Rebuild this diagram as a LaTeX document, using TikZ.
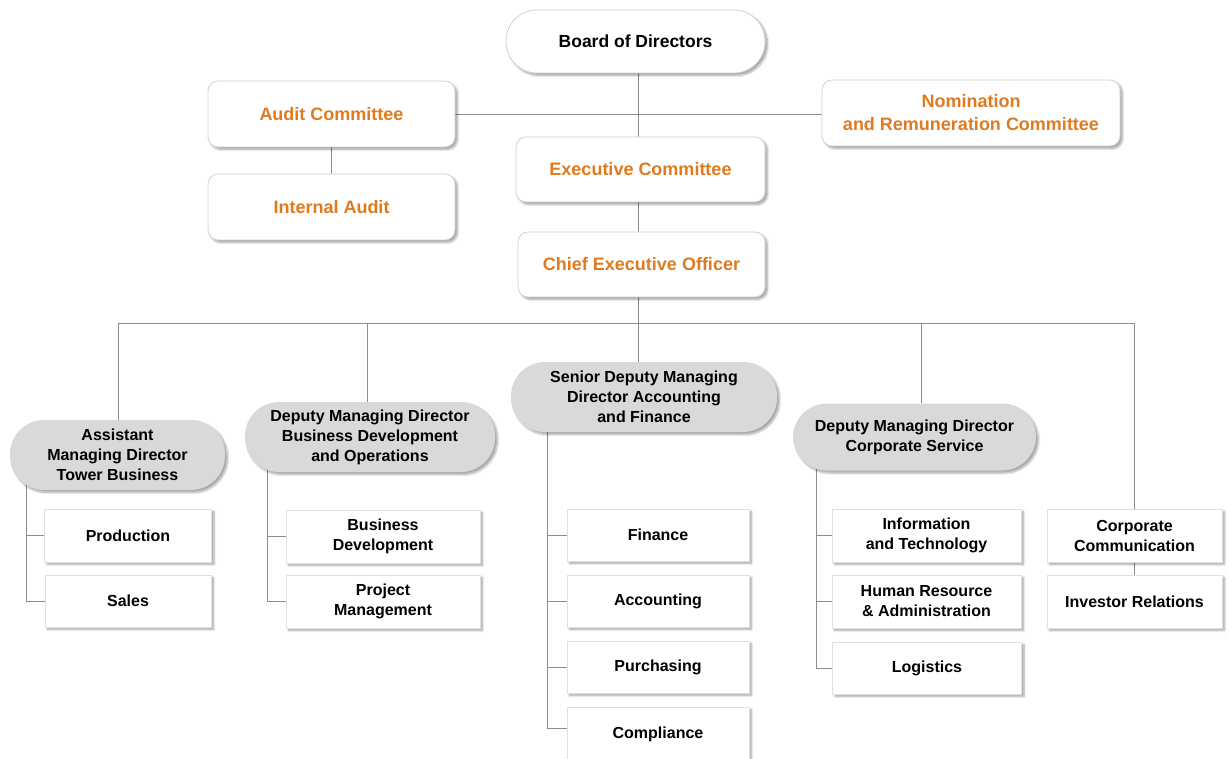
\documentclass[tikz,border=0pt]{standalone}
\usepackage{fontspec}
\setmainfont{Liberation Sans}
\usetikzlibrary{shadows.blur,backgrounds}
\definecolor{orng}{HTML}{E07A1F}
\definecolor{pillgray}{HTML}{D9D9D9}
\definecolor{linegray}{HTML}{8C8C8C}
\tikzset{
  x=1pt, y=-1pt,
  txt/.style={font=\bfseries\fontsize{16}{20}\selectfont, align=center, inner sep=0pt, text=black},
  shad/.style={blur shadow={shadow xshift=2.5pt, shadow yshift=-2.5pt, shadow blur steps=6, shadow opacity=35}},
  topbox/.style={txt, rectangle, rounded corners=10pt, draw=black!18, line width=0.8pt, fill=white, shad,
                 text=orng, font=\bfseries\fontsize{18}{23}\selectfont},
  boardbox/.style={txt, rectangle, rounded corners=31pt, draw=black!18, line width=0.8pt, fill=white, shad,
                 font=\bfseries\fontsize{17.5}{22}\selectfont},
  graypill/.style={txt, rectangle, rounded corners=34pt, fill=pillgray, shad},
  unitbox/.style={txt, rectangle, draw=black!12, line width=0.6pt, fill=white, shad},
  conn/.style={draw=linegray, line width=0.8pt},
}
\begin{document}
\begin{tikzpicture}
\useasboundingbox (0,0) rectangle (1229,759);
% top level
\node[boardbox, minimum width=259pt, minimum height=63pt] (board) at (635.5,41.5) {Board of Directors};
\node[topbox, minimum width=247pt, minimum height=66pt] (audit) at (331.5,114) {Audit Committee};
\node[topbox, minimum width=247pt, minimum height=66pt] (internal) at (331.5,207) {Internal Audit};
\node[topbox, minimum width=298pt, minimum height=66pt] (nomin) at (971,113) {Nomination\\and Remuneration Committee};
\node[topbox, minimum width=249pt, minimum height=65pt] (exec) at (640.5,169.5) {Executive Committee};
\node[topbox, minimum width=247pt, minimum height=65pt] (ceo) at (641.5,264.5) {Chief Executive Officer};
% gray pills
\node[graypill, minimum width=215pt, minimum height=70pt] (amd) at (117.5,455) {Assistant\\Managing Director\\Tower Business};
\node[graypill, minimum width=250pt, minimum height=70pt] (dbd) at (370,437) {Deputy Managing Director\\Business Development\\and Operations};
\node[graypill, minimum width=266pt, minimum height=70pt] (sdm) at (644,397) {Senior Deputy Managing\\Director Accounting\\and Finance};
\node[graypill, minimum width=243pt, minimum height=67pt] (dcs) at (914.5,437) {Deputy Managing Director\\Corporate Service};
% unit boxes
\node[unitbox, minimum width=167pt, minimum height=53pt] (prod) at (128,535.5) {Production};
\node[unitbox, minimum width=166pt, minimum height=52pt] (sales) at (128,601) {Sales};
\node[unitbox, minimum width=194pt, minimum height=53pt] (bd) at (383,536.5) {Business\\Development};
\node[unitbox, minimum width=194pt, minimum height=53pt] (pm) at (383,601.5) {Project\\Management};
\node[unitbox, minimum width=182pt, minimum height=52pt] (fin) at (658,535) {Finance};
\node[unitbox, minimum width=182pt, minimum height=52pt] (acc) at (658,601) {Accounting};
\node[unitbox, minimum width=182pt, minimum height=52pt] (pur) at (658,667) {Purchasing};
\node[unitbox, minimum width=182pt, minimum height=54pt] (comp) at (658,734) {Compliance};
\node[unitbox, minimum width=189pt, minimum height=53pt] (it) at (926.5,535.5) {Information\\and Technology};
\node[unitbox, minimum width=189pt, minimum height=53pt] (hr) at (926.5,601.5) {Human Resource\\\& Administration};
\node[unitbox, minimum width=189pt, minimum height=52pt] (logi) at (927,668) {Logistics};
\node[unitbox, minimum width=175pt, minimum height=53pt] (cc) at (1134.5,535.5) {Corporate\\Communication};
\node[unitbox, minimum width=175pt, minimum height=53pt] (ir) at (1134.5,601.5) {Investor Relations};
% connectors
\coordinate (busy) at (0,323);
\coordinate (sx) at (638,0);
\coordinate (a0) at (26,470);
\coordinate (b0) at (267,460);
\coordinate (s0) at (547,420);
\coordinate (d0) at (816,460);
\begin{pgfonlayer}{background}
\draw[conn] (board.south -| sx) -- (exec.north -| sx);
\draw[conn] (exec.south -| sx) -- (ceo.north -| sx);
\draw[conn] (audit.east) -- (audit.east -| nomin.west);
\draw[conn] (audit.south) -- (internal.north);
\draw[conn] (ceo.south -| sx) -- (sdm.north -| sx);
\draw[conn] ([xshift=0.5pt]amd.north) |- (busy -| cc.north) -- (cc.north);
\draw[conn] ([xshift=-3pt]dbd.north) -- ([xshift=-3pt]dbd.north |- busy);
\draw[conn] ([xshift=6.5pt]dcs.north) -- ([xshift=6.5pt]dcs.north |- busy);
\draw[conn] (cc.south) -- (ir.north);
\draw[conn] (a0) |- (sales.west);
\draw[conn] (prod.west) -- (prod.west -| a0);
\draw[conn] (b0) |- (pm.west);
\draw[conn] (bd.west) -- (bd.west -| b0);
\draw[conn] (s0) |- ([yshift=6pt]comp.west);
\draw[conn] (fin.west) -- (fin.west -| s0);
\draw[conn] (acc.west) -- (acc.west -| s0);
\draw[conn] (pur.west) -- (pur.west -| s0);
\draw[conn] (d0) |- (logi.west);
\draw[conn] (it.west) -- (it.west -| d0);
\draw[conn] (hr.west) -- (hr.west -| d0);
\end{pgfonlayer}
\end{tikzpicture}
\end{document}
